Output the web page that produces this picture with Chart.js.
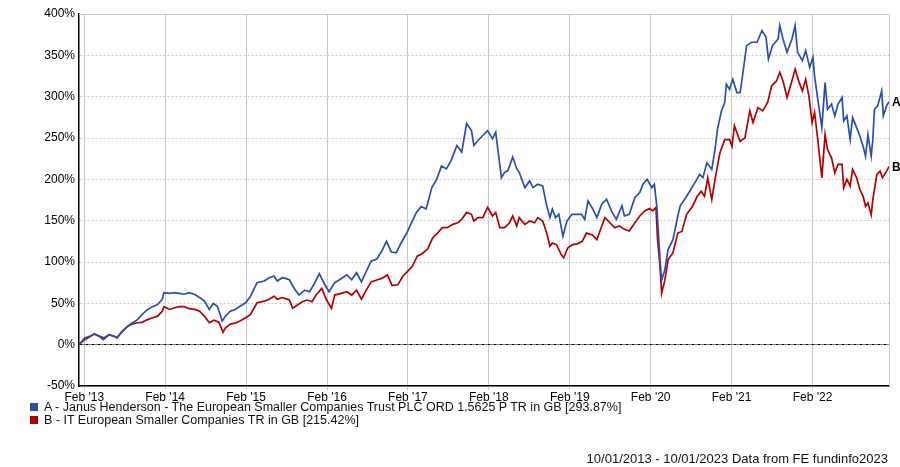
<!DOCTYPE html>
<html>
<head>
<meta charset="utf-8">
<title>Janus Henderson European Smaller Companies vs sector</title>
<script src="https://cdn.jsdelivr.net/npm/chart.js@4.4.1/dist/chart.umd.min.js"></script>
<style>
    body { margin: 0; background: #fff; }
    #wrap { position: relative; width: 900px; height: 467px; font-family: "Liberation Sans", Arial, sans-serif; color: #111; }
    #legend { position: absolute; left: 30px; top: 401px; font-size: 12.5px; line-height: 13px; }
    #legend .box { display: inline-block; width: 8px; height: 8px; margin-right: 6px; vertical-align: 0px; }
    #footer { position: absolute; right: 12px; top: 451px; font-size: 13px; white-space: nowrap; }
</style>
</head>
<body>
<div id="wrap">
    <canvas id="myChart" width="900" height="467"></canvas>
    <div id="legend"></div>
    <div id="footer">10/01/2013 - 10/01/2023 Data from FE fundinfo2023</div>
</div>
<script>
// series names and colours
const seriesNames = [
    'A - Janus Henderson - The European Smaller Companies Trust PLC ORD 1.5625 P TR in GB [293.87%]',
    'B - IT European Smaller Companies TR in GB [215.42%]'
];
const seriesTags = ['A', 'B'];
const seriesColors = ['#2b4fa8', '#b30000'];

// x axis ticks (decimal years, 1 Feb each year)
const tickYears = [2013.085, 2014.085, 2015.085, 2016.085, 2017.085, 2018.085, 2019.085, 2020.085, 2021.085, 2022.085];
const tickLabels = ["Feb '13", "Feb '14", "Feb '15", "Feb '16", "Feb '17", "Feb '18", "Feb '19", "Feb '20", "Feb '21", "Feb '22"];

// A - Janus Henderson European Smaller Companies Trust (cumulative % total return)
const datesA = [
    2013.02, 2013.09, 2013.15, 2013.21, 2013.27, 2013.32, 2013.39, 2013.46, 2013.49, 2013.55,
    2013.62, 2013.68, 2013.74, 2013.80, 2013.86, 2013.93, 2013.99, 2014.05, 2014.07, 2014.14,
    2014.20, 2014.26, 2014.32, 2014.38, 2014.45, 2014.51, 2014.57, 2014.63, 2014.68, 2014.73,
    2014.79, 2014.83, 2014.89, 2014.95, 2015.01, 2015.08, 2015.14, 2015.22, 2015.31, 2015.37,
    2015.43, 2015.47, 2015.53, 2015.56, 2015.62, 2015.68, 2015.74, 2015.81, 2015.87, 2015.93,
    2015.99, 2016.05, 2016.11, 2016.18, 2016.24, 2016.33, 2016.39, 2016.45, 2016.51, 2016.57,
    2016.63, 2016.70, 2016.76, 2016.82, 2016.88, 2016.94, 2017.00, 2017.07, 2017.13, 2017.19,
    2017.25, 2017.31, 2017.38, 2017.44, 2017.50, 2017.56, 2017.62, 2017.69, 2017.75, 2017.81,
    2017.87, 2017.90, 2017.95, 2018.01, 2018.07, 2018.13, 2018.17, 2018.19, 2018.24, 2018.28,
    2018.32, 2018.38, 2018.43, 2018.46, 2018.53, 2018.59, 2018.63, 2018.69, 2018.75, 2018.80,
    2018.84, 2018.87, 2018.91, 2018.95, 2019.00, 2019.05, 2019.11, 2019.17, 2019.23, 2019.27,
    2019.31, 2019.37, 2019.42, 2019.48, 2019.54, 2019.60, 2019.66, 2019.73, 2019.76, 2019.82,
    2019.89, 2019.95, 2019.99, 2020.04, 2020.10, 2020.13, 2020.16, 2020.20, 2020.22, 2020.26,
    2020.30, 2020.36, 2020.42, 2020.45, 2020.52, 2020.63, 2020.69, 2020.73, 2020.78, 2020.84,
    2020.88, 2020.91, 2020.96, 2021.00, 2021.02, 2021.06, 2021.10, 2021.15, 2021.19, 2021.22,
    2021.27, 2021.33, 2021.40, 2021.46, 2021.51, 2021.54, 2021.59, 2021.66, 2021.68, 2021.72,
    2021.77, 2021.83, 2021.87, 2021.90, 2021.96, 2022.00, 2022.05, 2022.09, 2022.11, 2022.15,
    2022.20, 2022.24, 2022.27, 2022.32, 2022.36, 2022.40, 2022.45, 2022.47, 2022.51, 2022.55,
    2022.58, 2022.63, 2022.67, 2022.71, 2022.74, 2022.77, 2022.81, 2022.83, 2022.85, 2022.89,
    2022.94, 2022.96, 2023.00, 2023.03
];
const valuesA = [
    0, 8, 10, 13, 10, 6, 12, 10, 8, 16,
    22, 26.5, 30, 36.5, 42, 46, 48.6, 55, 63, 62,
    63, 62, 61, 63, 60.6, 57, 52.6, 42.6, 50, 46.5,
    28.5, 34.5, 40.5, 42.6, 46.5, 50.7, 58.6, 75, 77, 81,
    83, 77, 81, 80.5, 78.5, 68, 60, 66, 64, 74,
    86, 74, 64, 75, 78.5, 84.5, 78.5, 87, 76, 88.6,
    101, 103.7, 113, 125, 112, 111, 123, 135, 147.5, 160,
    167, 164, 190, 200, 216, 212.6, 223, 241, 233, 267.5,
    259, 241, 247, 253, 259, 249, 257, 241, 202, 208.5,
    210.6, 227, 212.6, 208.5, 190, 198, 190, 194, 192, 168,
    153.7, 164, 153.7, 157.7, 131, 149.6, 157.7, 157.7, 157.7, 151.6,
    174, 164, 153.7, 170, 176, 161.8, 151.6, 168, 155.7, 157.7,
    178, 184, 194, 200, 190, 194, 168, 103, 78, 90.6,
    115, 127, 155.7, 168, 178, 195.7, 206, 202, 220, 212,
    236, 260.5, 283, 293, 315, 309, 321, 305, 305, 325,
    361.7, 365.8, 365.8, 380, 372, 345.5, 361.7, 369.8, 386, 369.8,
    353.6, 369.8, 386, 353.6, 343.5, 355.7, 335.4, 347.6, 325, 297,
    262.5, 317, 284.8, 291, 276.7, 291, 299, 270.6, 276.7, 248,
    274.7, 262.5, 252.4, 240, 228, 254, 228, 248, 284.8, 289,
    307, 276.7, 289, 293.87
];

// B - IT European Smaller Companies sector (cumulative % total return)
const datesB = [
    2013.02, 2013.09, 2013.21, 2013.33, 2013.39, 2013.49, 2013.55, 2013.62, 2013.68, 2013.74,
    2013.80, 2013.86, 2013.93, 2013.99, 2014.05, 2014.07, 2014.14, 2014.20, 2014.26, 2014.32,
    2014.38, 2014.45, 2014.51, 2014.57, 2014.63, 2014.69, 2014.75, 2014.80, 2014.83, 2014.89,
    2014.95, 2015.01, 2015.08, 2015.14, 2015.22, 2015.31, 2015.37, 2015.43, 2015.47, 2015.53,
    2015.56, 2015.62, 2015.66, 2015.72, 2015.78, 2015.84, 2015.90, 2015.95, 2016.02, 2016.08,
    2016.14, 2016.18, 2016.26, 2016.33, 2016.39, 2016.45, 2016.51, 2016.57, 2016.63, 2016.71,
    2016.77, 2016.83, 2016.89, 2016.96, 2017.02, 2017.08, 2017.14, 2017.20, 2017.26, 2017.33,
    2017.39, 2017.45, 2017.51, 2017.57, 2017.64, 2017.70, 2017.75, 2017.81, 2017.87, 2017.90,
    2017.95, 2018.01, 2018.07, 2018.13, 2018.17, 2018.22, 2018.28, 2018.34, 2018.38, 2018.43,
    2018.46, 2018.53, 2018.59, 2018.65, 2018.69, 2018.75, 2018.80, 2018.84, 2018.87, 2018.92,
    2018.98, 2019.01, 2019.06, 2019.12, 2019.18, 2019.24, 2019.29, 2019.36, 2019.42, 2019.48,
    2019.52, 2019.58, 2019.64, 2019.70, 2019.76, 2019.82, 2019.89, 2019.95, 2020.01, 2020.07,
    2020.11, 2020.15, 2020.17, 2020.20, 2020.22, 2020.26, 2020.30, 2020.36, 2020.42, 2020.47,
    2020.53, 2020.60, 2020.66, 2020.71, 2020.75, 2020.79, 2020.84, 2020.88, 2020.94, 2021.00,
    2021.06, 2021.09, 2021.12, 2021.19, 2021.25, 2021.31, 2021.35, 2021.41, 2021.47, 2021.53,
    2021.58, 2021.64, 2021.68, 2021.72, 2021.77, 2021.83, 2021.87, 2021.92, 2021.96, 2022.00,
    2022.04, 2022.08, 2022.11, 2022.15, 2022.20, 2022.24, 2022.27, 2022.32, 2022.36, 2022.40,
    2022.45, 2022.47, 2022.51, 2022.55, 2022.58, 2022.63, 2022.67, 2022.71, 2022.74, 2022.77,
    2022.81, 2022.83, 2022.88, 2022.92, 2022.95, 2023.00, 2023.03
];
const valuesB = [
    0, 6, 13, 8, 12, 9, 15, 22, 25, 26.5,
    27, 30, 32.5, 34.5, 40.5, 46, 42.6, 44.6, 46, 46,
    43.5, 42.6, 40.5, 34.5, 26.5, 29.5, 27, 15, 20.5, 25,
    26, 28.5, 32.5, 36.5, 50.7, 52.6, 55, 58.6, 55, 57,
    56, 54, 44, 48, 52, 54, 52, 60, 68, 54,
    44, 60, 62, 64, 60, 66, 55, 66, 76, 78.5,
    80.5, 84.5, 71.5, 72.4, 82.5, 88.6, 94.7, 107, 110, 116,
    129, 135, 141.5, 141.5, 145.5, 147.5, 151.6, 160, 157.7, 149.6,
    153.7, 153.7, 166, 155.7, 160, 141.5, 141.5, 147.5, 155.7, 143.5,
    153.7, 145.5, 149.6, 147.5, 153.7, 149.6, 135, 119, 123, 121,
    109, 105, 117, 121, 122, 125, 135, 133, 127, 143.5,
    153.7, 147.5, 141.5, 143.5, 139.5, 137.4, 147.5, 155.7, 161.8, 164.6,
    161.8, 166, 127, 94.7, 62, 78, 103, 111, 135, 137,
    157.7, 167, 179.5, 185.6, 179.5, 201.8, 175.5, 200, 232, 248,
    248, 240, 264.6, 246, 250.4, 282.8, 268.6, 286.8, 282.8, 293,
    313, 319, 329.4, 319, 299, 319, 333.4, 317, 307, 321,
    301, 268.6, 281, 248, 201.8, 254.5, 236, 226, 208, 218,
    218, 189.7, 200, 191.7, 212, 201.8, 187.7, 179.5, 167.4, 171.5,
    157, 175.5, 206, 210, 201.8, 210, 215.42
];

const fontFamily = '"Liberation Sans", Arial, sans-serif';

// gray frame on top and right of the plot
const framePlugin = {
    id: 'frame',
    beforeDatasetsDraw(chart) {
        const { ctx, chartArea: a } = chart;
        ctx.save();
        ctx.strokeStyle = '#c8c8c8';
        ctx.lineWidth = 1;
        ctx.beginPath();
        ctx.moveTo(a.left, a.top + 0.5);
        ctx.lineTo(a.right + 0.5, a.top + 0.5);
        ctx.lineTo(a.right + 0.5, a.bottom);
        ctx.stroke();
        ctx.restore();
    }
};

// A / B tags at the end of each line
const endTagPlugin = {
    id: 'endTags',
    afterDatasetsDraw(chart) {
        const ctx = chart.ctx;
        ctx.save();
        ctx.font = 'bold 12px ' + fontFamily;
        ctx.fillStyle = '#000';
        ctx.textBaseline = 'middle';
        chart.data.datasets.forEach((ds, i) => {
            const pts = chart.getDatasetMeta(i).data;
            const last = pts[pts.length - 1];
            ctx.fillText(seriesTags[i], chart.chartArea.right + 3, last.y + 1);
        });
        ctx.restore();
    }
};

document.addEventListener('DOMContentLoaded', function () {
    // html legend
    const legend = document.getElementById('legend');
    seriesNames.forEach((name, i) => {
        const row = document.createElement('div');
        row.innerHTML = '<span class="box" style="background:' + seriesColors[i] + '"></span>' + name;
        legend.appendChild(row);
    });

    const ctx = document.getElementById('myChart').getContext('2d');
    new Chart(ctx, {
        type: 'line',
        data: {
            datasets: [
                {
                    label: seriesNames[0],
                    data: datesA.map((d, i) => ({ x: d, y: valuesA[i] })),
                    borderColor: seriesColors[0],
                    borderWidth: 1.7,
                    pointRadius: 0,
                    fill: false,
                    tension: 0
                },
                {
                    label: seriesNames[1],
                    data: datesB.map((d, i) => ({ x: d, y: valuesB[i] })),
                    borderColor: seriesColors[1],
                    borderWidth: 1.7,
                    pointRadius: 0,
                    fill: false,
                    tension: 0
                }
            ]
        },
        options: {
            responsive: false,
            animation: false,
            devicePixelRatio: 1,
            layout: { padding: { top: 14, right: 11, left: 0, bottom: 0 } },
            plugins: {
                legend: { display: false },
                tooltip: { enabled: false }
            },
            scales: {
                x: {
                    type: 'linear',
                    min: 2013.02,
                    max: 2023.03,
                    afterBuildTicks: function (scale) {
                        scale.ticks = tickYears.map(v => ({ value: v }));
                    },
                    afterFit: function (scale) {
                        scale.height = 81;
                    },
                    ticks: {
                        autoSkip: false,
                        maxRotation: 0,
                        padding: 0,
                        color: '#000',
                        font: { family: fontFamily, size: 12 },
                        callback: (value, index) => tickLabels[index]
                    },
                    grid: { color: '#c8c8c8', lineWidth: 1, tickLength: 4 },
                    border: { color: '#000', width: 1.5 }
                },
                y: {
                    min: -50,
                    max: 400,
                    afterFit: function (scale) {
                        scale.width = 79;
                    },
                    ticks: {
                        stepSize: 50,
                        padding: 4,
                        color: '#000',
                        font: { family: fontFamily, size: 12 },
                        callback: v => v + '%'
                    },
                    grid: {
                        drawTicks: false,
                        lineWidth: 1,
                        color: c => (c.tick && c.tick.value === 0) ? '#000' : '#c8c8c8'
                    },
                    border: {
                        color: '#000',
                        width: 1.5,
                        dash: c => c.tick ? (c.tick.value === 0 ? [3, 1, 1, 1] : [2, 2]) : []
                    }
                }
            }
        },
        plugins: [framePlugin, endTagPlugin]
    });
});
</script>
</body>
</html>
